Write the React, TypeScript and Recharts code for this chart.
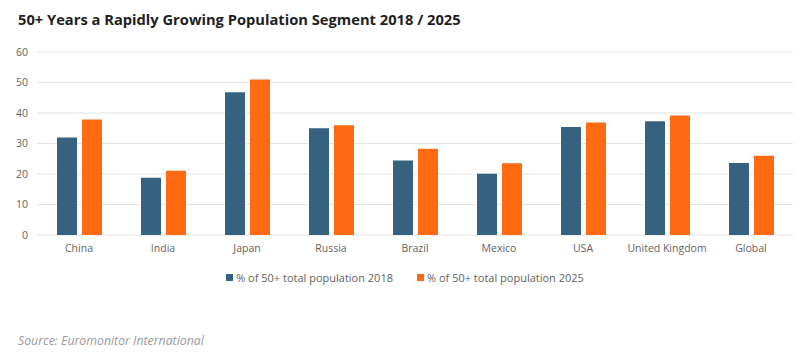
import React from 'react';
import { BarChart, Bar, XAxis, YAxis, CartesianGrid, Legend } from 'recharts';

const categories = ['China', 'India', 'Japan', 'Russia', 'Brazil', 'Mexico', 'USA', 'United Kingdom', 'Global'];
const pop2018 = [32.0, 18.8, 46.8, 35.0, 24.4, 20.1, 35.4, 37.3, 23.6];
const pop2025 = [37.9, 21.1, 51.0, 36.0, 28.3, 23.5, 36.9, 39.2, 26.0];
const yTicks = [0, 10, 20, 30, 40, 50, 60];
const seriesNames = ['% of 50+ total population 2018', '% of 50+ total population 2025'];

const BLUE = '#36627F';
const ORANGE = '#FF6A13';
const TEXT = '#5f5f5f';
const FONT = '"Open Sans", sans-serif';

const data = categories.map((c, i) => ({ name: c, y2018: pop2018[i], y2025: pop2025[i] }));

const LegendContent = (props: any) => {
  const payload = props.payload || [];
  return (
    <div style={{ display: 'flex', justifyContent: 'center', fontFamily: FONT, fontSize: 11, color: TEXT }}>
      {payload.map((p: any, i: number) => (
        <div key={i} style={{ display: 'flex', alignItems: 'center', marginRight: i === 0 ? 24 : 0 }}>
          <span style={{ width: 7, height: 7, background: p.color, display: 'inline-block', marginRight: 3 }} />
          <span>{p.value}</span>
        </div>
      ))}
    </div>
  );
};

export default function App() {
  return (
    <div style={{ position: 'absolute', left: 0, top: 0, width: 810, height: 360, background: '#fff' }}>
      <div style={{ position: 'absolute', left: 18, top: 9, fontFamily: FONT, fontWeight: 700, fontSize: 14.7, color: '#1f1f1f', whiteSpace: 'nowrap' }}>
        50+ Years a Rapidly Growing Population Segment 2018 / 2025
      </div>
      <BarChart
        width={810}
        height={360}
        data={data}
        margin={{ top: 52, right: 17, left: 7, bottom: 95 }}
        barCategoryGap={20}
        barGap={5}
      >
        <CartesianGrid vertical={false} stroke="#e3e3e3" strokeWidth={1.2} />
        <XAxis
          dataKey="name"
          axisLine={false}
          tickLine={false}
          tickSize={0}
          tickMargin={10}
          height={30}
          tick={{ fill: TEXT, fontSize: 10.5, fontFamily: FONT }}
          interval={0}
        />
        <YAxis
          domain={[0, 60]}
          ticks={yTicks}
          axisLine={false}
          tickLine={false}
          tickSize={0}
          tickMargin={9}
          width={30}
          tick={{ fill: TEXT, fontSize: 10.5, fontFamily: FONT }}
        />
        <Legend verticalAlign="middle" wrapperStyle={{ top: 270, left: 0, width: 810 }} content={<LegendContent />} />
        <Bar dataKey="y2018" name={seriesNames[0]} fill={BLUE} isAnimationActive={false} />
        <Bar dataKey="y2025" name={seriesNames[1]} fill={ORANGE} isAnimationActive={false} />
      </BarChart>
      <div style={{ position: 'absolute', left: 18, top: 332, fontFamily: FONT, fontStyle: 'italic', fontSize: 12.3, color: '#9a9a9a', whiteSpace: 'nowrap' }}>
        Source: Euromonitor International
      </div>
    </div>
  );
}
